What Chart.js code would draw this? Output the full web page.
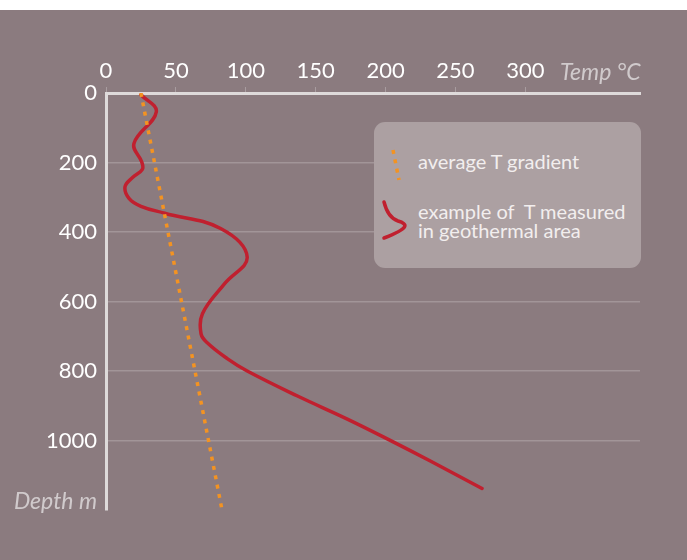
<!DOCTYPE html>
<html lang="en">
<head>
    <meta charset="UTF-8">
    <title>Temperature vs depth</title>
    <style>
        body {
            margin: 0;
            padding: 0;
            background: #ffffff;
            font-family: Lato, "Open Sans", sans-serif;
        }
        .wrap {
            position: absolute;
            left: 0;
            top: 10px;
            width: 687px;
            height: 550px;
            background: #8b7b7f;
        }
        #grafica {
            position: absolute;
            left: 0;
            top: 0;
        }
        .axis-title {
            position: absolute;
            font-style: italic;
            font-size: 23px;
            color: rgba(255, 255, 255, 0.6);
            line-height: 23px;
        }
        .leyenda {
            position: absolute;
            left: 374px;
            top: 112px;
            width: 267px;
            height: 146px;
            background: #aca0a2;
            border-radius: 11px;
        }
        .leyenda span {
            position: absolute;
            left: 44px;
            color: #f2eeee;
            font-size: 20px;
            line-height: 19px;
            white-space: nowrap;
        }
        .leyenda svg {
            position: absolute;
            left: 0;
            top: 0;
        }
    </style>
</head>
<body>
    <div class="wrap">
        <canvas id="grafica" width="687" height="550"></canvas>
        <div class="axis-title" style="left:560px; top:50px;">Temp °C</div>
        <div class="axis-title" style="right:590px; top:479px;">Depth m</div>
        <div class="leyenda">
            <svg width="267" height="146">
                <line x1="19" y1="28" x2="25" y2="58" stroke="#f39322" stroke-width="3.5" stroke-dasharray="4 5.5"/>
                <path d="M10 80 C 13 92, 18 97, 24 99 C 34 102, 36 106, 10 116" fill="none" stroke="#c0202f" stroke-width="3.5" stroke-linecap="round"/>
            </svg>
            <span style="top:30px;">average T gradient</span>
            <span style="top:80px;">example of &nbsp;T measured<br>in geothermal area</span>
        </div>
    </div>

    <script src="https://cdn.jsdelivr.net/npm/chart.js"></script>
    <script>
        // Gradiente medio (lineal)
        const gradientTemp = [25, 83];
        const gradientDepth = [0, 1200];

        // Perfil medido en zona geotérmica
        const measuredTemp = [25, 36, 20, 25.5, 26, 19, 13.6, 16.6, 25, 42, 82, 101, 85, 69, 68, 73, 87, 101, 137, 173, 204, 232, 269];
        const measuredDepth = [5, 54, 145, 198, 220, 243, 270, 304, 326, 346, 390, 472, 548, 635, 693, 721, 765, 800, 872, 939, 1001, 1059, 1138];

        const xTicks = [0, 50, 100, 150, 200, 250, 300];
        const yTicks = [0, 200, 400, 600, 800, 1000];

        function puntos(xs, ys) {
            return xs.map((v, i) => ({ x: v, y: ys[i] }));
        }

        const ctx = document.getElementById('grafica').getContext('2d');
        const grafica = new Chart(ctx, {
            type: 'line',
            data: {
                datasets: [
                    {
                        label: 'average T gradient',
                        data: puntos(gradientTemp, gradientDepth),
                        borderColor: '#f39322',
                        borderWidth: 3.5,
                        borderDash: [4, 5.5],
                        pointRadius: 0,
                        tension: 0
                    },
                    {
                        label: 'example of T measured in geothermal area',
                        data: puntos(measuredTemp, measuredDepth),
                        borderColor: '#c0202f',
                        borderWidth: 3.5,
                        pointRadius: 0,
                        tension: 0.4,
                        borderCapStyle: 'round'
                    }
                ]
            },
            options: {
                responsive: false,
                animation: false,
                layout: {
                    padding: { left: 0, right: 47, top: 0, bottom: 50 }
                },
                plugins: {
                    legend: { display: false },
                    tooltip: { enabled: false }
                },
                scales: {
                    x: {
                        type: 'linear',
                        position: 'top',
                        min: 0,
                        max: 382,
                        afterBuildTicks: (scale) => {
                            scale.ticks = xTicks.map(v => ({ value: v }));
                        },
                        afterFit: (scale) => { scale.height = 83; },
                        border: { color: '#dedada', width: 3 },
                        grid: {
                            drawOnChartArea: false,
                            tickLength: 6,
                            color: 'rgba(255,255,255,0.25)'
                        },
                        ticks: {
                            color: '#ffffff',
                            padding: 3,
                            font: { family: 'Lato', size: 22 },
                            callback: (v) => String(v)
                        }
                    },
                    y: {
                        type: 'linear',
                        reverse: true,
                        min: 0,
                        max: 1200,
                        afterBuildTicks: (scale) => {
                            scale.ticks = yTicks.map(v => ({ value: v }));
                        },
                        afterFit: (scale) => { scale.width = 106; },
                        border: { color: '#dedada', width: 3 },
                        grid: {
                            drawTicks: false,
                            lineWidth: 1.5,
                            color: (c) => c.tick && c.tick.value === 0 ? 'transparent' : 'rgba(255,255,255,0.2)'
                        },
                        ticks: {
                            color: '#ffffff',
                            padding: 9,
                            font: { family: 'Lato', size: 22 },
                            callback: (v) => String(v)
                        }
                    }
                }
            }
        });
    </script>
</body>
</html>
